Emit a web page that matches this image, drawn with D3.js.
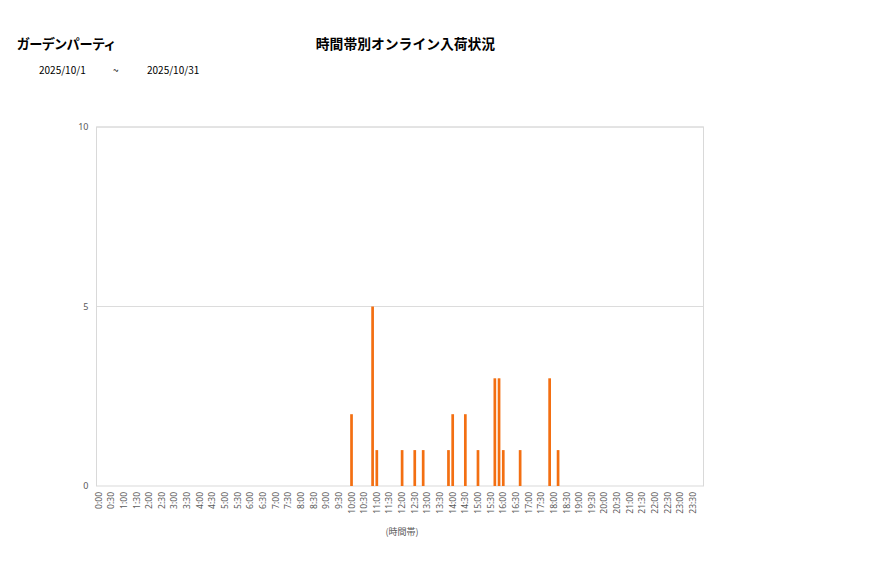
<!DOCTYPE html>
<html><head><meta charset="utf-8">
<script src="https://cdn.jsdelivr.net/npm/d3@7"></script>
<style>
html,body{margin:0;padding:0;background:#fff;}
svg{display:block;font-family:"Noto Sans CJK JP","Noto Sans",sans-serif;}
</style></head>
<body><svg id="c" width="877" height="578"></svg>
<script>
// ---- data ----
const shopName = "ガーデンパーティ";
const chartTitle = "時間帯別オンライン入荷状況";
const dateFrom = "2025/10/1";
const dateTo = "2025/10/31";
const xAxisTitle = "(時間帯)";
// 10-minute time slots 0:00 .. 23:50
const slots = [];
for (let h = 0; h < 24; h++) for (let m = 0; m < 60; m += 10) slots.push(h + ":" + String(m).padStart(2, "0"));
// slots that received arrivals, and the counts
const arrivalSlots  = ["10:00","10:50","11:00","12:00","12:30","12:50","13:50","14:00","14:30","15:00","15:40","15:50","16:00","16:40","17:50","18:10"];
const arrivalCounts = [2,5,1,1,1,1,1,2,2,1,3,3,1,1,3,1];
const yTicks = [0, 5, 10];
const xTickLabels = slots.filter(s => s.endsWith(":00") || s.endsWith(":30"));

const counts = new Map(arrivalSlots.map((s, i) => [s, arrivalCounts[i]]));
const data = slots.map(s => ({slot: s, value: counts.get(s) || 0}));

// ---- layout ----
const svg = d3.select("#c");
const L = 96.5, R = 703.5, T = 127, B = 486;

const x = d3.scaleBand().domain(slots).range([L, R]).paddingInner(0.36).paddingOuter(0.18);
const y = d3.scaleLinear().domain([0, 10]).range([B, T]);

// titles
svg.append("text").attr("x", 17).attr("y", 49).attr("font-size", 13.2).attr("font-weight", "bold")
  .style("font-feature-settings", "'palt'").attr("fill", "#000").text(shopName);
svg.append("text").attr("x", 405.5).attr("y", 49).attr("text-anchor", "middle").attr("font-size", 13.8)
  .attr("font-weight", "bold").attr("fill", "#000").text(chartTitle);
svg.append("text").attr("x", 39).attr("y", 74).attr("font-size", 10).attr("fill", "#000").text(dateFrom);
svg.append("text").attr("x", 113).attr("y", 74).attr("font-size", 10).attr("fill", "#000").text("~");
svg.append("text").attr("x", 147).attr("y", 74).attr("font-size", 10).attr("fill", "#000").text(dateTo);

// gridlines
svg.append("g").selectAll("line").data(yTicks.filter(d => d > 0)).join("line")
  .attr("x1", L).attr("x2", R).attr("y1", d => y(d)).attr("y2", d => y(d))
  .attr("stroke", "#dcdcdc").attr("stroke-width", 1);
// plot border
svg.append("rect").attr("x", L).attr("y", T).attr("width", R - L).attr("height", B - T)
  .attr("fill", "none").attr("stroke", "#d9d9d9").attr("stroke-width", 1);

// y axis
const yAxis = d3.axisLeft(y).tickValues(yTicks).tickSize(0).tickPadding(8).tickFormat(d3.format("d"));
const gy = svg.append("g").attr("transform", `translate(${L},0)`).call(yAxis);
gy.select(".domain").remove();
gy.selectAll("text").attr("font-size", 9).attr("fill", "#595959").attr("font-family", "'Noto Sans',sans-serif");

// x axis
const xAxis = d3.axisBottom(x).tickValues(xTickLabels).tickSize(0).tickPadding(0);
const gx = svg.append("g").attr("transform", `translate(0,${B})`).call(xAxis);
gx.select(".domain").remove();
gx.selectAll("text")
  .attr("font-size", 8.5).attr("fill", "#595959").attr("font-family", "'Noto Sans',sans-serif")
  .attr("text-anchor", "end").attr("dy", null).attr("y", 0)
  .attr("transform", "translate(3,6) rotate(-90)");

// bars
svg.append("g").selectAll("rect").data(data.filter(d => d.value > 0)).join("rect")
  .attr("x", d => x(d.slot)).attr("width", x.bandwidth())
  .attr("y", d => y(d.value)).attr("height", d => B - y(d.value))
  .attr("fill", "#f36f12");

// x axis title
svg.append("text").attr("x", 402).attr("y", 535).attr("text-anchor", "middle").attr("font-size", 9)
  .attr("fill", "#595959").text(xAxisTitle);
</script></body></html>
